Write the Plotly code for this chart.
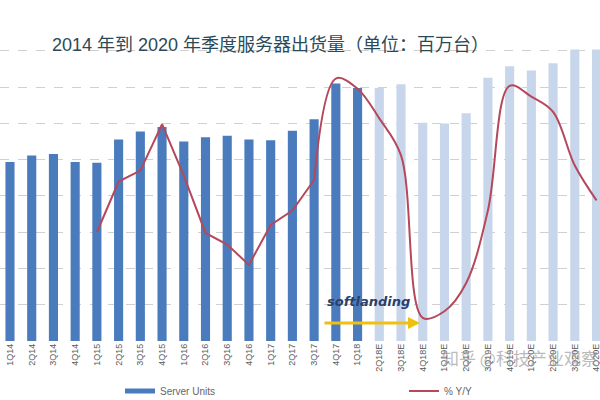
import plotly.graph_objects as go

quarters = ["1Q14", "2Q14", "3Q14", "4Q14", "1Q15", "2Q15", "3Q15", "4Q15",
            "1Q16", "2Q16", "3Q16", "4Q16", "1Q17", "2Q17", "3Q17", "4Q17",
            "1Q18", "2Q18E", "3Q18E", "4Q18E", "1Q19E", "2Q19E", "3Q19E", "4Q19E",
            "1Q20E", "2Q20E", "3Q20E", "4Q20E"]
server_units = [2.47, 2.56, 2.58, 2.47, 2.46, 2.78, 2.89, 2.95,
                2.75, 2.81, 2.83, 2.78, 2.77, 2.90, 3.06, 3.55,
                3.49, 3.49, 3.54, 3.01, 3.00, 3.14, 3.63, 3.79,
                3.73, 3.83, 4.02, 4.02]
yoy_pct = [None, None, None, None, 0.0, 7.0, 8.5, 14.9,
           7.8, -0.1, -1.7, -4.5, 1.0, 3.0, 7.2, 21.2,
           19.8, 15.7, 10.6, -11.8, -10.9, -7.0, 3.0, 20.2,
           18.7, 16.6, 9.2, 4.4]
n_actual = 17          # 1Q14 .. 1Q18 are actual, the rest are estimates
split_idx = 14         # the Y/Y curve is drawn smooth from 3Q17 onwards

title_text = "2014 年到 2020 年季度服务器出货量（单位：百万台）"
watermark = "知乎 @科技产业观察"

DARK = "#4a7cbd"
LIGHT = "#c7d6eb"
LINE = "#b5485a"

W, H = 600, 400
M_T, M_B = 14, 59
PLOT_H = H - M_T - M_B


def px_x(p):
    return p / W


def px_y(p):
    return (H - M_B - p) / PLOT_H


bar_colors = [DARK if i < n_actual else LIGHT for i in range(len(quarters))]

fig = go.Figure()
fig.add_trace(go.Bar(x=quarters, y=server_units, marker=dict(color=bar_colors, line=dict(width=0)),
                     width=0.42, name="Server Units", showlegend=False, yaxis="y"))
# legend entry for bars
fig.add_trace(go.Scatter(x=[None], y=[None], mode="lines", line=dict(color=DARK, width=5),
                         name="Server Units", legend="legend"))

fig.add_trace(go.Scatter(x=quarters[:split_idx + 1], y=yoy_pct[:split_idx + 1], mode="lines",
                         line=dict(color=LINE, width=2), name="% Y/Y", yaxis="y2",
                         legend="legend2", legendgroup="yoy", connectgaps=False))
fig.add_trace(go.Scatter(x=quarters[split_idx:], y=yoy_pct[split_idx:], mode="lines",
                         line=dict(color=LINE, width=2, shape="spline", smoothing=1.0),
                         name="% Y/Y", yaxis="y2", showlegend=False, legendgroup="yoy"))

fig.update_layout(
    width=W, height=H,
    margin=dict(l=0, r=0, t=M_T, b=M_B, autoexpand=False),
    paper_bgcolor="white", plot_bgcolor="white",
    font=dict(family="Liberation Sans", color="#555555"),
    xaxis=dict(type="category", range=[-0.46, 27.16], tickangle=-90,
               tickfont=dict(size=9, color="#5a5a5a"), showgrid=False,
               showline=False, ticks="", automargin=False),
    yaxis=dict(range=[0, 4.51], dtick=0.5, showticklabels=False, zeroline=False,
               showgrid=True, gridcolor="#d0d0d0", griddash="dash", gridwidth=1),
    yaxis2=dict(range=[-15, 30.1], overlaying="y", showticklabels=False, showgrid=False,
                zeroline=False),
    legend=dict(orientation="h", x=px_x(120), y=(H - 391) / H, yref="container",
                xanchor="left", yanchor="middle",
                font=dict(size=10, color="#666666"), bgcolor="rgba(0,0,0,0)"),
    legend2=dict(orientation="h", x=px_x(404), y=(H - 391) / H, yref="container",
                 xanchor="left", yanchor="middle",
                 font=dict(size=10, color="#666666"), bgcolor="rgba(0,0,0,0)"),
)

fig.add_annotation(xref="paper", yref="paper", x=px_x(270), y=px_y(33), text=title_text,
                   showarrow=False,
                   font=dict(family="Liberation Sans, Noto Sans CJK SC", size=18, color="#2b4a57"))

fig.add_annotation(xref="paper", yref="paper", x=px_x(420), y=px_y(323), ax=-97, ay=0,
                   axref="pixel", ayref="pixel", text="", showarrow=True,
                   arrowcolor="#f0c010", arrowwidth=3, arrowhead=2, arrowsize=0.8)
fig.add_annotation(xref="paper", yref="paper", x=px_x(368), y=px_y(311),
                   text="<b><i>softlanding</i></b>", showarrow=False,
                   font=dict(family="DejaVu Sans", size=13, color="#2a3f6a"))

fig.add_annotation(xref="paper", yref="paper", x=px_x(440), y=px_y(372), xanchor="left",
                   text=watermark, showarrow=False,
                   font=dict(family="Noto Sans CJK SC", size=17, color="rgba(140,140,140,0.6)"))

fig.write_html("out.html")
